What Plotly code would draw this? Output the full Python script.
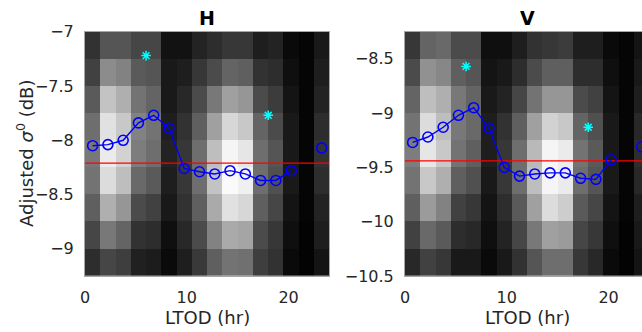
import plotly.graph_objects as go

# ---- data -------------------------------------------------------------
# LTOD bin centres (1.5 hr bins over the day)
ltod_centers = [0.75, 2.25, 3.75, 5.25, 6.75, 8.25, 9.75, 11.25,
                12.75, 14.25, 15.75, 17.25, 18.75, 20.25, 21.75, 23.25]

# sigma0 bin centres for the density images (0.25 dB bins)
h_sig_centers = [-7.125, -7.375, -7.625, -7.875, -8.125, -8.375, -8.625, -8.875, -9.125]
v_sig_centers = [-8.375, -8.625, -8.875, -9.125, -9.375, -9.625, -9.875, -10.125, -10.375]

# normalised sample density (0-255), rows follow the sigma0 centres above
h_density = [
    [50, 85, 85, 70, 70, 18, 18, 35, 45, 55, 55, 30, 35, 10, 5, 25],
    [65, 140, 130, 90, 85, 25, 30, 55, 75, 100, 95, 50, 45, 15, 5, 30],
    [90, 195, 175, 115, 100, 25, 40, 75, 120, 160, 150, 75, 60, 20, 5, 35],
    [110, 225, 200, 130, 115, 30, 50, 95, 160, 215, 200, 100, 75, 25, 5, 45],
    [120, 235, 210, 125, 110, 35, 55, 110, 190, 245, 230, 110, 85, 25, 5, 50],
    [115, 220, 190, 105, 90, 30, 55, 110, 195, 250, 240, 110, 80, 25, 5, 45],
    [95, 175, 150, 75, 65, 25, 50, 95, 170, 225, 215, 95, 70, 20, 5, 35],
    [70, 120, 100, 50, 45, 15, 40, 75, 130, 170, 165, 75, 55, 15, 3, 30],
    [45, 70, 62, 32, 28, 10, 30, 57, 95, 115, 112, 62, 50, 10, 3, 20],
]
v_density = [
    [55, 100, 105, 75, 75, 15, 15, 30, 50, 55, 60, 30, 30, 10, 5, 20],
    [75, 145, 135, 95, 85, 20, 25, 45, 75, 95, 95, 45, 45, 15, 5, 25],
    [100, 190, 175, 120, 100, 25, 35, 70, 115, 150, 150, 75, 65, 20, 5, 30],
    [115, 220, 190, 120, 105, 30, 50, 95, 160, 210, 200, 100, 80, 25, 5, 40],
    [125, 230, 200, 115, 95, 30, 55, 110, 185, 245, 235, 115, 90, 25, 5, 45],
    [115, 200, 175, 95, 80, 25, 55, 110, 190, 245, 235, 110, 85, 25, 5, 40],
    [95, 155, 130, 65, 55, 20, 45, 90, 160, 220, 205, 90, 70, 20, 5, 30],
    [65, 105, 90, 45, 40, 15, 35, 70, 120, 160, 155, 70, 55, 15, 3, 25],
    [40, 65, 55, 25, 25, 10, 25, 50, 85, 110, 110, 55, 40, 10, 3, 20],
]

# binned mean adjusted sigma0 (dB); None marks an empty bin
h_mean = [-8.05, -8.04, -8.00, -7.84, -7.77, -7.89, -8.26, -8.29,
          -8.31, -8.28, -8.31, -8.37, -8.37, -8.28, None, -8.07]
v_mean = [-9.27, -9.22, -9.13, -9.02, -8.95, -9.14, -9.50, -9.58,
          -9.56, -9.55, -9.55, -9.60, -9.61, -9.43, None, -9.31]

# overpass reference values (6 am / 6 pm)
pass_ltod = [6, 18]
h_pass = [-7.22, -7.77]
v_pass = [-8.57, -9.13]

# overall reference level
ref_ltod = [0, 24]
h_ref = -8.21
v_ref = -9.44

# ---- figure -----------------------------------------------------------
W, H = 642, 332
fig = go.Figure()

gray = [[0, "black"], [1, "white"]]
panels = [
    ("x", "y", h_sig_centers, h_density, h_mean, h_pass, h_ref),
    ("x2", "y2", v_sig_centers, v_density, v_mean, v_pass, v_ref),
]
for xa, ya, sig, dens, mean, pas, ref in panels:
    fig.add_trace(go.Heatmap(x=ltod_centers, y=sig, z=dens, colorscale=gray,
                             zmin=0, zmax=255, showscale=False,
                             xaxis=xa, yaxis=ya, hoverinfo="skip"))
    fig.add_trace(go.Scatter(x=ref_ltod, y=[ref, ref], mode="lines",
                             line=dict(color="#ff0000", width=1.3),
                             xaxis=xa, yaxis=ya, showlegend=False))
    fig.add_trace(go.Scatter(x=ltod_centers, y=mean, mode="lines+markers",
                             connectgaps=False,
                             line=dict(color="#0000ff", width=1.4),
                             marker=dict(symbol="circle-open", size=10,
                                         color="#0000ff", line=dict(width=1.6)),
                             xaxis=xa, yaxis=ya, showlegend=False))
    fig.add_trace(go.Scatter(x=pass_ltod, y=pas, mode="markers",
                             marker=dict(symbol="asterisk-open", size=8,
                                         color="#00ffff", line=dict(width=1.5, color="#00ffff")),
                             xaxis=xa, yaxis=ya, showlegend=False))

px_per_hr = (329.3 - 85) / 24.0
y_dom = [1 - 276 / H, 1 - 31.7 / H]
tick_font = dict(family="DejaVu Sans", size=16, color="#262626")
axis_common = dict(showgrid=False, zeroline=False, showline=True, linecolor="#a6a6a6",
                   linewidth=1, mirror=True, ticks="", tickfont=tick_font,
                   ticklabelstandoff=7, automargin=False)

fig.update_layout(
    width=W, height=H, margin=dict(l=0, r=0, t=0, b=0, autoexpand=False),
    paper_bgcolor="white", plot_bgcolor="white", showlegend=False,
    xaxis=dict(domain=[85 / W, 329.3 / W], range=[0, 24], tickvals=[0, 10, 20],
               anchor="y", **axis_common),
    yaxis=dict(domain=y_dom, range=[-9.25, -7], tickvals=[-9, -8.5, -8, -7.5, -7],
               anchor="x", **axis_common),
    xaxis2=dict(domain=[405 / W, 1.0], range=[0, (W - 405) / px_per_hr],
                tickvals=[0, 10, 20], anchor="y2", **axis_common),
    yaxis2=dict(domain=y_dom, range=[-10.5, -8.25],
                tickvals=[-10.5, -10, -9.5, -9, -8.5], anchor="x2", **axis_common),
)

label_font = dict(family="DejaVu Sans", size=18, color="#262626")
title_font = dict(family="DejaVu Sans", size=19, color="black")
ann = [
    dict(text="<b>H</b>", x=12, xref="x", y=1 - 18 / H, yref="paper", font=title_font),
    dict(text="<b>V</b>", x=12, xref="x2", y=1 - 18 / H, yref="paper", font=title_font),
    dict(text="LTOD (hr)", x=12, xref="x", y=1 - 317 / H, yref="paper", font=label_font),
    dict(text="LTOD (hr)", x=12, xref="x2", y=1 - 317 / H, yref="paper", font=label_font),
    dict(text="Adjusted <i>σ</i><sup>0</sup> (dB)", x=25 / W, xref="paper",
         y=1 - 154 / H, yref="paper", textangle=-90, font=label_font),
]
for a in ann:
    fig.add_annotation(showarrow=False, xanchor="center", yanchor="middle", **a)

fig.write_html("out.html")
